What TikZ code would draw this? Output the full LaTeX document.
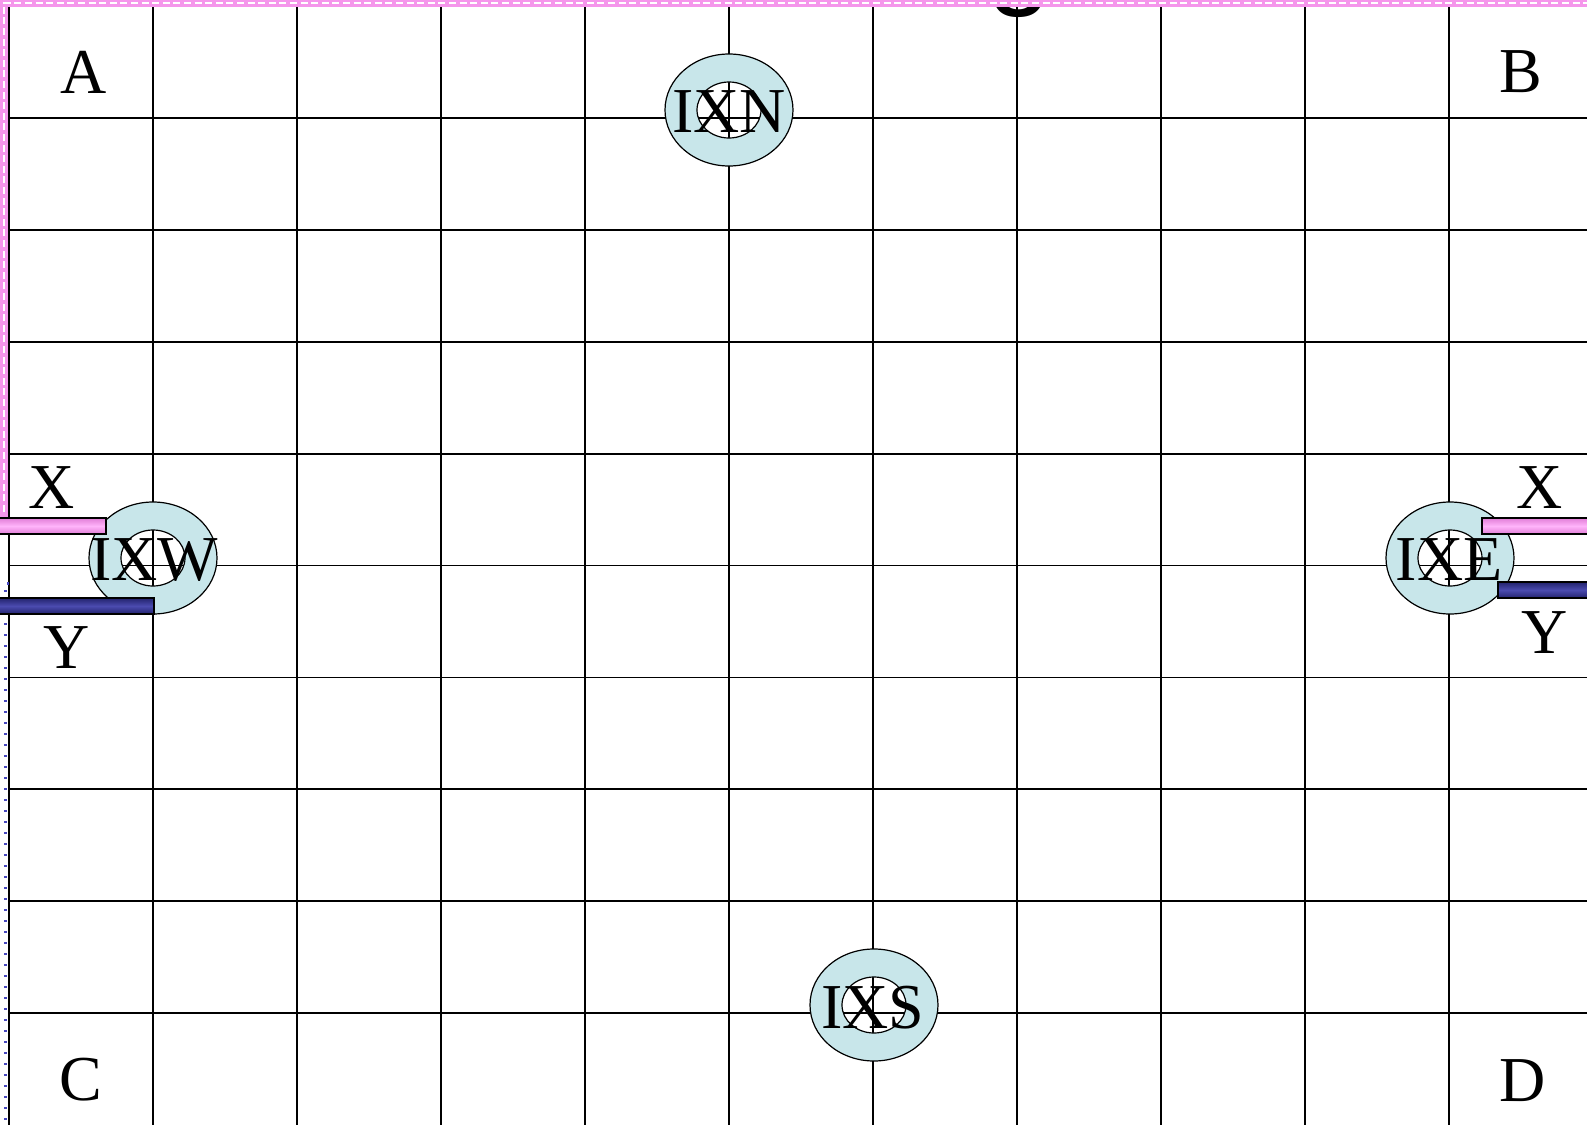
\documentclass[tikz,border=0pt]{standalone}
\usepackage{fontspec}
\setmainfont{Liberation Serif}
\newfontfamily\titlefont{Liberation Sans}
\definecolor{ringblue}{RGB}{200,230,234}
\definecolor{pinkline}{RGB}{245,150,235}
\definecolor{pinkdark}{RGB}{225,125,215}
\definecolor{pinklight}{RGB}{255,180,250}
\definecolor{navydark}{RGB}{35,35,110}
\definecolor{navylight}{RGB}{75,75,175}
\definecolor{dotblue}{RGB}{70,70,190}
\begin{document}
\begin{tikzpicture}[x=0.5pt,y=-0.5pt,
  lbl/.style={font=\fontsize{32}{36}\selectfont, inner sep=0pt},
  gridline/.style={line width=0.9pt},
  ring/.style={fill=ringblue, even odd rule, draw=black, line width=0.6pt},
  xbar/.style={draw=black, line width=0.6pt, top color=pinkdark, bottom color=pinkdark, middle color=pinklight},
  ybar/.style={draw=black, line width=0.6pt, top color=navydark, bottom color=navydark, middle color=navylight}]
\useasboundingbox (0,0) rectangle (1587,1125);
\clip (0,0) rectangle (1587,1125);
% grid
\foreach \i in {0,...,10}
  \draw[gridline] ({9.3+144*\i},6) -- ({9.3+144*\i},1125);
\foreach \j in {0,...,9}
  \draw[gridline] (9.3,{6+111.9*\j}) -- (1587,{6+111.9*\j});
% title, cut off
\node[font=\titlefont\fontsize{58}{66}\selectfont, anchor=base, inner sep=0pt] (ttl) at (1020,-7) {g};
% X route along the frame
\draw[pinkline, line width=3.5pt] (4,518) -- (4,3) -- (1600,3);
\draw[white, line width=1.2pt, dash pattern=on 3.5pt off 1.8pt] (4,512) -- (4,3) -- (1600,3);
% Y route
\draw[dotblue, line width=1.5pt, dash pattern=on 1.2pt off 4.3pt] (9,583) -- (5,583) -- (5,1130);
% intersections
\foreach \cx/\cy in {729/110, 153/558, 1450/558, 874/1005}
  \draw[ring] (\cx,\cy) ellipse [x radius=64, y radius=56]
              (\cx,\cy) ellipse [x radius=32, y radius=28];
% bars
\draw[xbar] (-5,518) rectangle (106,534);
\draw[ybar] (-5,598) rectangle (154,614);
\draw[xbar] (1482,518) rectangle (1595,534);
\draw[ybar] (1498,582) rectangle (1595,598);
% labels
\node[lbl] (a) at (84,72) {A};
\node[lbl] (b) at (1521,72) {B};
\node[lbl] (c) at (81,1080) {C};
\node[lbl] (d) at (1523,1081) {D};
\node[lbl] (ixn) at (729,112) {IXN};
\node[lbl] (ixw) at (154,560) {IXW};
\node[lbl] (ixe) at (1449,560) {IXE};
\node[lbl] (ixs) at (873,1008) {IXS};
\node[lbl] (xw) at (52,488) {X};
\node[lbl] (yw) at (67,648) {Y};
\node[lbl] (xe) at (1540,488) {X};
\node[lbl] (ye) at (1545,633) {Y};
\end{tikzpicture}
\end{document}
